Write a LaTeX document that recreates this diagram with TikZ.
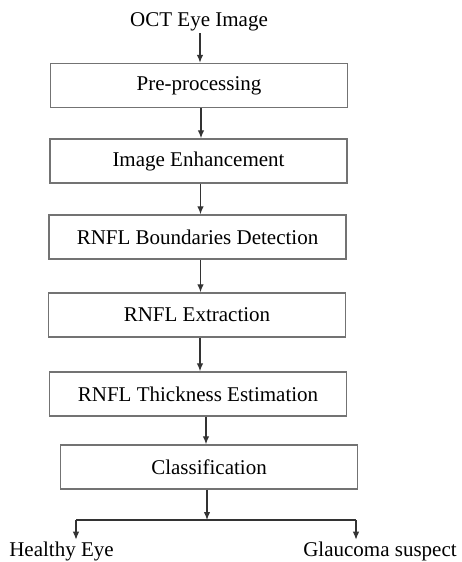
\documentclass[tikz,border=0pt]{standalone}
\usepackage{fontspec}
\setmainfont{Liberation Serif}
\usetikzlibrary{arrows.meta}

\begin{document}
\begin{tikzpicture}[x=1pt,y=-1pt,
  stage/.style={draw=black!55,line width=1.4pt,minimum width=297pt,minimum height=44pt,inner sep=0pt,font=\fontsize{21}{24}\selectfont},
  txt/.style={inner sep=2pt,font=\fontsize{21}{24}\selectfont},
  flow/.style={->,>={Latex[length=8pt,width=6.5pt]},line width=1.3pt,draw=black!80}]
\useasboundingbox (0,0) rectangle (462,562);
\node[txt] (oct) at (199,22) {OCT Eye Image};
\node[stage] (pre) at (199,85.5) {Pre-processing};
\node[stage] (enh) at (198.5,161) {Image Enhancement};
\node[stage] (bnd) at (197.5,237) {RNFL Boundaries Detection};
\node[stage] (ext) at (197,315) {RNFL Extraction};
\node[stage] (thick) at (198,394) {RNFL Thickness Estimation};
\node[stage] (cls) at (209,467) {Classification};
\node[txt,anchor=base] (healthy) at (61.5,556.5) {Healthy Eye};
\node[txt,anchor=base] (glauc) at (380,556.5) {Glaucoma suspect};
\coordinate (split) at (207,520);
\coordinate (left) at (76,520);
\coordinate (right) at (356,520);

\draw[flow] ([xshift=1pt]oct.south) -- ([xshift=1pt]oct.south |- pre.north);
\draw[flow] ([xshift=2pt]pre.south) -- ([xshift=2pt]pre.south |- enh.north);
\draw[flow] ([xshift=2pt]enh.south) -- ([xshift=2pt]enh.south |- bnd.north);
\draw[flow] ([xshift=3pt]bnd.south) -- ([xshift=3pt]bnd.south |- ext.north);
\draw[flow] ([xshift=3pt]ext.south) -- ([xshift=3pt]ext.south |- thick.north);
\draw[flow] ([xshift=-3pt]cls.north |- thick.south) -- ([xshift=-3pt]cls.north);
\draw[flow] ([xshift=-2pt]cls.south) -- (split);
\draw[line width=1.3pt,draw=black!80] (left) -- (right);
\draw[flow] (left) -- (left |- healthy.north);
\draw[flow] (right) -- (right |- glauc.north);
\end{tikzpicture}
\end{document}
